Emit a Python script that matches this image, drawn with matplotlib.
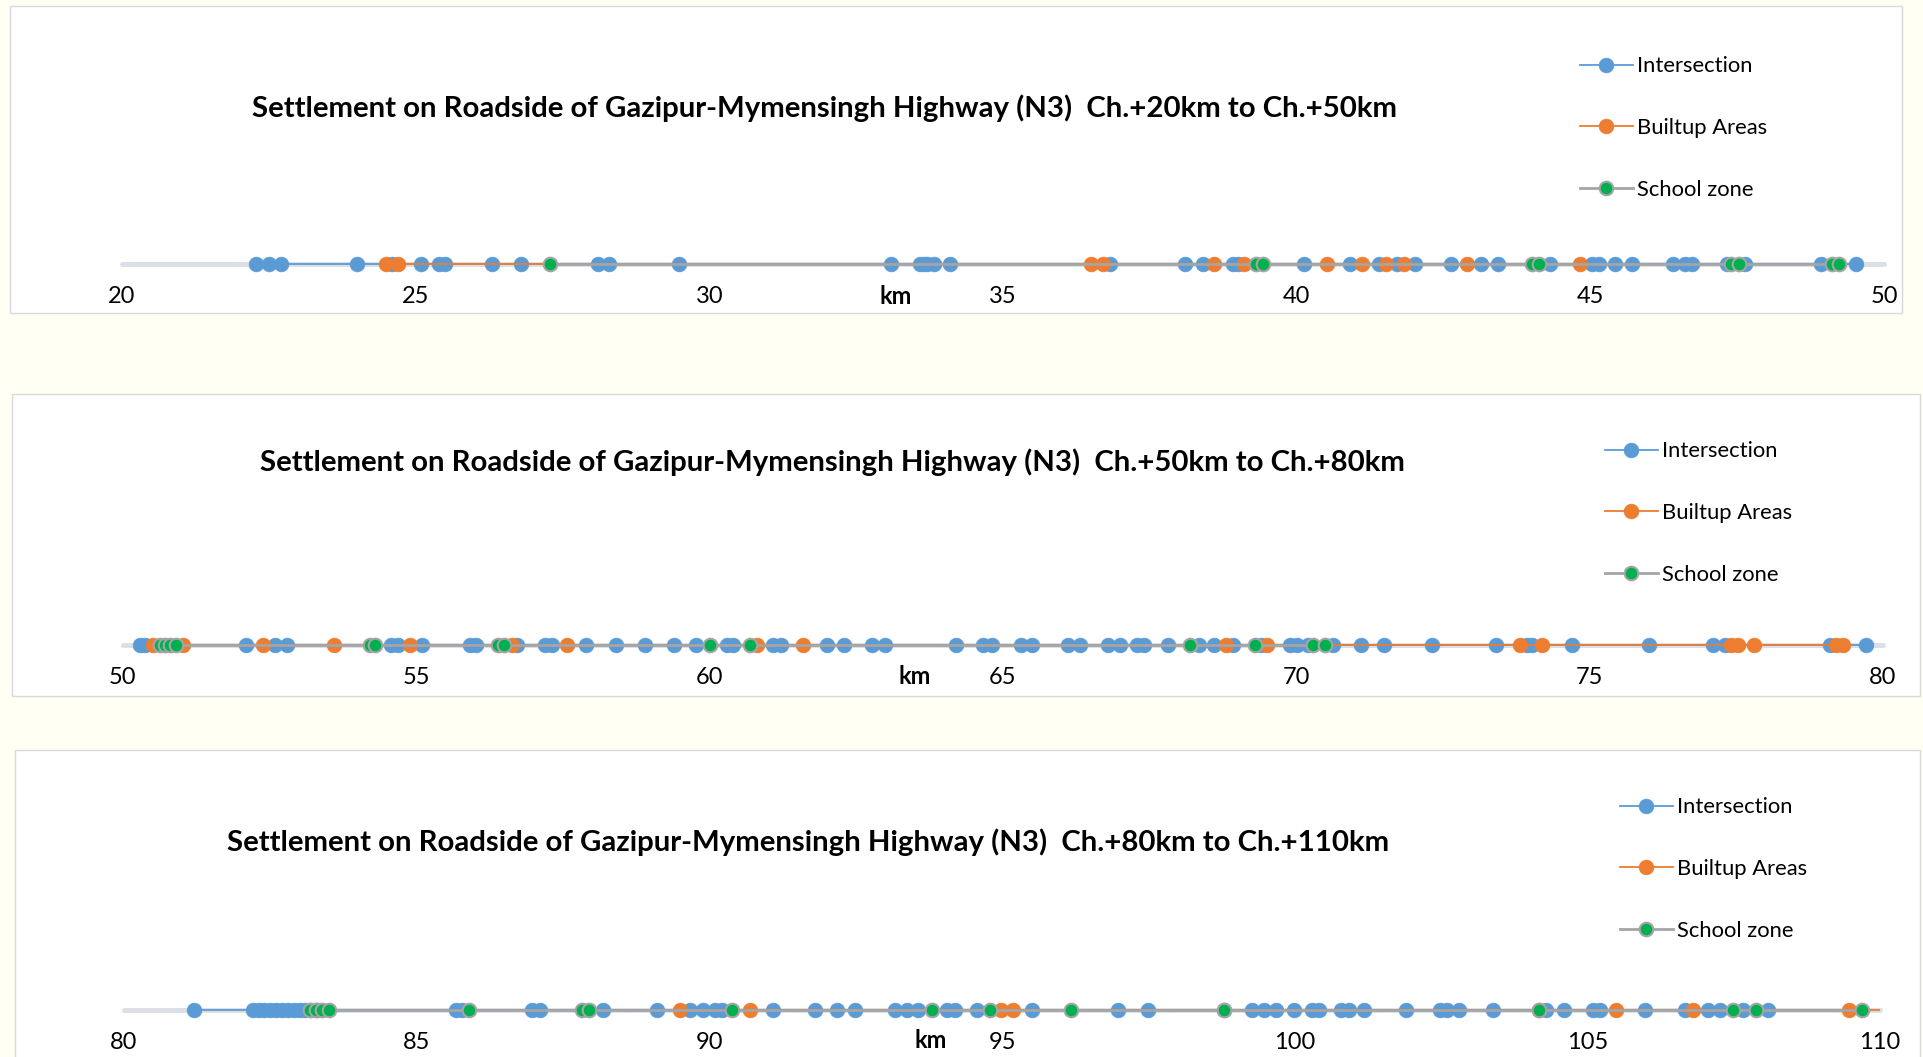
import numpy as np
import matplotlib
matplotlib.use("Agg")
import matplotlib.pyplot as plt
from matplotlib.patches import Rectangle

plt.rcParams['font.family'] = ['Lato', 'DejaVu Sans']

# ---------------- data (km chainage of each feature) ----------------
series_names = ["Intersection", "Builtup Areas", "School zone"]

titles = [
    "Settlement on Roadside of Gazipur-Mymensingh Highway (N3)  Ch.+20km to Ch.+50km",
    "Settlement on Roadside of Gazipur-Mymensingh Highway (N3)  Ch.+50km to Ch.+80km",
    "Settlement on Roadside of Gazipur-Mymensingh Highway (N3)  Ch.+80km to Ch.+110km",
]
x_ranges = [(20, 50), (50, 80), (80, 110)]

intersection_1 = [22.28, 22.50, 22.70, 24.00, 24.60, 25.09, 25.39, 25.50, 26.30, 26.80,
                  28.10, 28.30, 29.49, 33.09, 33.59, 33.65, 33.71, 33.82, 34.10, 36.83,
                  38.10, 38.40, 38.91, 39.00, 40.12, 40.90, 41.40, 41.71, 42.02, 42.62,
                  43.13, 43.42, 44.32, 45.03, 45.14, 45.42, 45.71, 46.41, 46.62, 46.73,
                  47.32, 47.64, 48.92, 49.53]
builtup_1 = [24.50, 24.70, 36.50, 36.71, 38.60, 39.11, 40.52, 41.11, 41.52, 41.82,
             42.90, 44.82]
school_1 = [27.29, 39.31, 39.42, 44.00, 44.12, 47.40, 47.53, 49.12, 49.23]

intersection_2 = [50.29, 50.38, 52.10, 52.60, 52.80, 54.58, 54.69, 55.10, 55.92, 56.02,
                  56.72, 57.20, 57.31, 57.90, 58.41, 58.90, 59.40, 59.78, 60.30, 60.41,
                  61.09, 61.22, 62.00, 62.29, 62.78, 62.99, 64.20, 64.67, 64.81, 65.31,
                  65.50, 66.11, 66.31, 66.80, 67.00, 67.29, 67.40, 67.82, 68.34, 68.60,
                  68.93, 69.41, 69.90, 70.01, 70.21, 70.63, 71.10, 71.50, 72.31, 73.41,
                  73.93, 74.02, 74.71, 76.02, 77.11, 77.31, 79.10, 79.71]
builtup_2 = [50.52, 51.02, 52.40, 53.61, 54.90, 56.63, 57.58, 60.81, 61.60, 68.81,
             69.51, 73.82, 74.20, 77.42, 77.54, 77.81, 79.21, 79.33]
school_2 = [50.64, 50.72, 50.81, 50.91, 54.22, 54.30, 56.40, 56.50, 60.01, 60.69,
            68.20, 69.30, 70.29, 70.50]

intersection_3 = [81.20, 82.20, 82.30, 82.40, 82.50, 82.60, 82.70, 82.80, 82.90, 83.00,
                  83.10, 83.20, 83.30, 85.68, 85.77, 86.97, 87.11, 88.19, 89.10, 89.67,
                  89.90, 90.10, 90.21, 91.09, 91.81, 92.18, 92.49, 93.17, 93.37, 93.57,
                  94.06, 94.20, 94.57, 95.51, 96.99, 97.49, 98.79, 99.27, 99.47, 99.68,
                  99.99, 100.29, 100.41, 100.80, 100.92, 101.19, 101.90, 102.48, 102.60,
                  102.80, 103.39, 104.30, 104.60, 105.10, 105.22, 105.99, 106.67, 107.07,
                  107.27, 107.66, 108.09]
builtup_3 = [89.50, 90.70, 94.99, 95.19, 104.18, 105.49, 106.80, 109.47, 110.30]
school_3 = [83.18, 83.28, 83.38, 83.51, 85.90, 87.83, 87.94, 90.39, 93.80, 94.80,
            96.18, 98.79, 104.18, 107.49, 107.89, 109.70]

panel_data = [
    (intersection_1, builtup_1, school_1),
    (intersection_2, builtup_2, school_2),
    (intersection_3, builtup_3, school_3),
]

# ---------------- layout (pixels of a 1924x1057 canvas) ----------------
W, H = 1924, 1057
layout = [
    dict(box=(10, 6, 1902, 313), ax=(122, 1884), yc=264, title=(825, 108),
         leg=(1580, 128), km=(896, 297)),
    dict(box=(12, 394, 1920, 696), ax=(122.7, 1882.7), yc=645, title=(832, 462),
         leg=(1605, 513), km=(915, 677)),
    dict(box=(15, 750, 1920, 1062), ax=(124, 1880), yc=1010, title=(808, 842),
         leg=(1620, 869), km=(931, 1040)),
]

def fx(p):
    return p / W

def fy(p):
    return 1 - p / H

colors = ["#5B9BD5", "#ED7D31", "#A5A5A5"]
green = "#00B050"
axis_col = "#DCE0E6"

fig = plt.figure(figsize=(W / 100, H / 100), dpi=100, facecolor="#FFFFF3")

for (lay, data, title, (xa, xb)) in zip(layout, panel_data, titles, x_ranges):
    bx0, by0, bx1, by1 = lay["box"]
    fig.add_artist(Rectangle((fx(bx0), fy(by1)), fx(bx1) - fx(bx0), (by1 - by0) / H,
                             transform=fig.transFigure, facecolor="white",
                             edgecolor="#D9D9D9", linewidth=1.0, zorder=-1))
    ax_h = 60
    ax = fig.add_axes([fx(lay["ax"][0]), fy(lay["yc"] + ax_h / 2),
                       fx(lay["ax"][1]) - fx(lay["ax"][0]), ax_h / H])
    ax.set_facecolor("none")
    ax.set_xlim(xa, xb)
    ax.set_ylim(-1, 1)
    ax.set_yticks([])
    for s in ["left", "right", "top"]:
        ax.spines[s].set_visible(False)
    sp = ax.spines["bottom"]
    sp.set_position(("data", 0))
    sp.set_color(axis_col)
    sp.set_linewidth(3.6)
    sp.set_capstyle("round")
    sp.set_zorder(1)
    ax.set_xticks(np.arange(xa, xb + 1, 5))
    ax.tick_params(axis="x", length=0, pad=16, labelsize=17, labelcolor="black")

    inter, bua, sch = data
    l1, = ax.plot(inter, np.zeros(len(inter)), "-o", color=colors[0], lw=1.3,
                  ms=10.6, mfc=colors[0], mec=colors[0], mew=0.5, zorder=2)
    l2, = ax.plot(bua, np.zeros(len(bua)), "-o", color=colors[1], lw=1.3,
                  ms=10.6, mfc=colors[1], mec=colors[1], mew=0.5, zorder=3)
    l3, = ax.plot(sch, np.zeros(len(sch)), "-o", color=colors[2], lw=2.0,
                  ms=9.8, mfc=green, mec=colors[2], mew=1.5, zorder=4)

    fig.text(fx(lay["title"][0]), fy(lay["title"][1]), title, ha="center",
             va="center", fontsize=21.2, fontweight="bold", color="black")
    fig.text(fx(lay["km"][0]), fy(lay["km"][1]), "km", ha="center", va="center",
             fontsize=17, fontweight="bold", color="black")

    fig.legend(handles=[l1, l2, l3], labels=series_names, loc="center left",
               bbox_to_anchor=(fx(lay["leg"][0]), fy(lay["leg"][1])),
               frameon=False, fontsize=15.8, labelspacing=1.9, handlelength=2.4,
               handletextpad=0.22, borderpad=0, borderaxespad=0, numpoints=1)

fig.savefig("out.png", dpi=100, facecolor=fig.get_facecolor())
